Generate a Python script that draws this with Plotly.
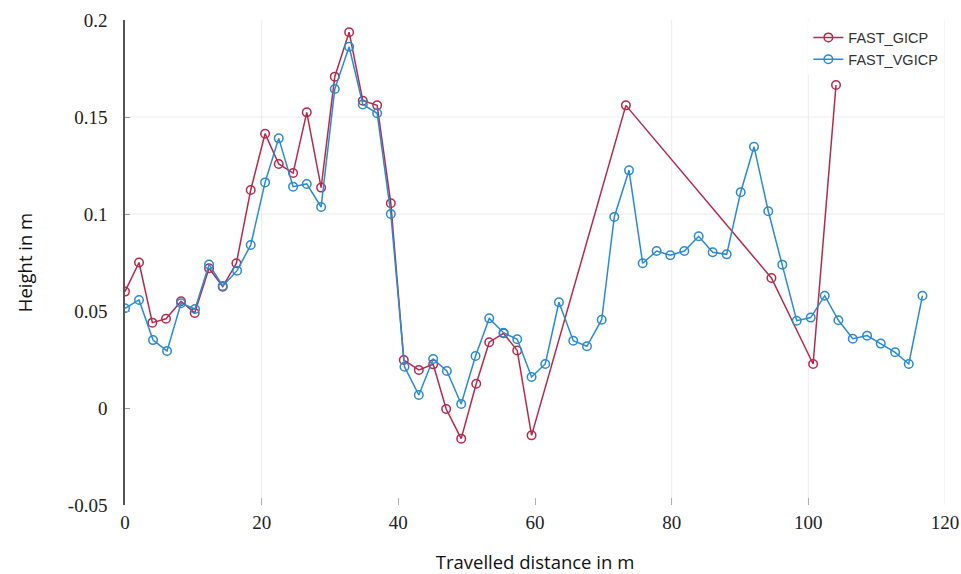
import plotly.graph_objects as go

# ---- data ----
gicp_x = [0, 2.05, 4.0, 6.0, 8.2, 10.2, 12.3, 14.3, 16.3, 18.4, 20.5, 22.5, 24.6, 26.6, 28.7,
          30.7, 32.8, 34.8, 36.9, 38.9, 40.8, 43.0, 45.1, 47.0, 49.2, 51.4, 53.3, 55.4, 57.4,
          59.5, 73.3, 94.6, 100.7, 104.05]
gicp_y = [0.060, 0.075, 0.044, 0.046, 0.055, 0.049, 0.072, 0.0625, 0.0746, 0.1124, 0.1414,
          0.1258, 0.1211, 0.1524, 0.1136, 0.1708, 0.1937, 0.1584, 0.156, 0.1055, 0.0247,
          0.0196, 0.0225, -0.0005, -0.0158, 0.0125, 0.0339, 0.0385, 0.0296, -0.0141, 0.156,
          0.067, 0.0227, 0.1665]

vgicp_x = [0, 2.05, 4.1, 6.15, 8.2, 10.25, 12.3, 14.3, 16.4, 18.4, 20.5, 22.5, 24.6, 26.6,
           28.7, 30.7, 32.8, 34.8, 36.9, 38.9, 40.9, 43.0, 45.1, 47.1, 49.2, 51.3, 53.3, 55.4,
           57.4, 59.5, 61.5, 63.5, 65.6, 67.6, 69.76, 71.6, 73.76, 75.76, 77.8, 79.8, 81.85,
           83.95, 86.0, 88.05, 90.1, 92.05, 94.14, 96.19, 98.3, 100.35, 102.4, 104.4, 106.5,
           108.6, 110.6, 112.7, 114.7, 116.7]
vgicp_y = [0.0514, 0.0557, 0.035, 0.0294, 0.054, 0.051, 0.074, 0.0629, 0.0708, 0.084, 0.1163,
           0.139, 0.1141, 0.1155, 0.1036, 0.1644, 0.1862, 0.1565, 0.1519, 0.100, 0.0213, 0.0067,
           0.0253, 0.0191, 0.0021, 0.0268, 0.0462, 0.0388, 0.0354, 0.016, 0.0227, 0.0545, 0.0347,
           0.0318, 0.0455, 0.0985, 0.1225, 0.0746, 0.0809, 0.0787, 0.0809, 0.0885, 0.0803,
           0.0792, 0.1112, 0.1347, 0.1014, 0.0739, 0.045, 0.0466, 0.0579, 0.0452, 0.0357,
           0.0373, 0.0332, 0.0287, 0.0227, 0.0579]

x_ticks = [0, 20, 40, 60, 80, 100, 120]
y_ticks = [-0.05, 0, 0.05, 0.1, 0.15, 0.2]
y_tick_text = ["-0.05", "0", "0.05", "0.1", "0.15", "0.2"]
grid_x = [20, 80, 100, 120]
grid_y = [0.1, 0.15]

RED = "#b52a4b"
BLUE = "#2a8ad2"

fig = go.Figure()
fig.add_trace(go.Scatter(
    x=gicp_x, y=gicp_y, mode="lines+markers", name="FAST_GICP",
    line=dict(color=RED, width=1.5),
    marker=dict(symbol="circle-open", size=8.5, color=RED, line=dict(width=1.5)),
))
fig.add_trace(go.Scatter(
    x=vgicp_x, y=vgicp_y, mode="lines+markers", name="FAST_VGICP",
    line=dict(color=BLUE, width=1.5),
    marker=dict(symbol="circle-open", size=8.5, color=BLUE, line=dict(width=1.5)),
))

shapes = []
for gx in grid_x:
    shapes.append(dict(type="line", xref="x", yref="paper", x0=gx, x1=gx, y0=0, y1=1,
                       line=dict(color="#ececec", width=1), layer="below"))
for gy in grid_y:
    shapes.append(dict(type="line", xref="paper", yref="y", x0=0, x1=1, y0=gy, y1=gy,
                       line=dict(color="#ececec", width=1), layer="below"))

tick_font = dict(family="Liberation Serif", size=19, color="#222222")
title_font = dict(family="Open Sans", size=18.5, color="#111111")

fig.update_layout(
    width=961, height=574,
    margin=dict(l=125, r=16, t=20, b=69),
    paper_bgcolor="white", plot_bgcolor="white",
    shapes=shapes,
    showlegend=True,
    legend=dict(x=0.998, y=0.997, xanchor="right", yanchor="top",
                bgcolor="rgba(255,255,255,0.95)",
                font=dict(family="Liberation Sans", size=14.5, color="#333333"),
                tracegroupgap=0, itemwidth=30),
    xaxis=dict(range=[0, 120], tickvals=x_ticks, showgrid=False, zeroline=False,
               showline=False, ticks="inside", ticklen=7, tickcolor="#b0b0b0",
               tickfont=tick_font, ticklabelstandoff=4, automargin=False,
               title=dict(text="Travelled distance in m", font=title_font, standoff=28)),
    yaxis=dict(range=[-0.05, 0.2], tickvals=y_ticks, ticktext=y_tick_text, showgrid=False,
               zeroline=False, showline=True, linecolor="#555555", linewidth=1.5,
               ticks="inside", ticklen=5, tickcolor="#999999",
               tickfont=tick_font, ticklabelstandoff=12, automargin=False,
               title=dict(text="Height in m", font=title_font, standoff=30)),
)

fig.write_html("out.html", config={"displayModeBar": False},
               post_script="document.body.style.margin='0';")
